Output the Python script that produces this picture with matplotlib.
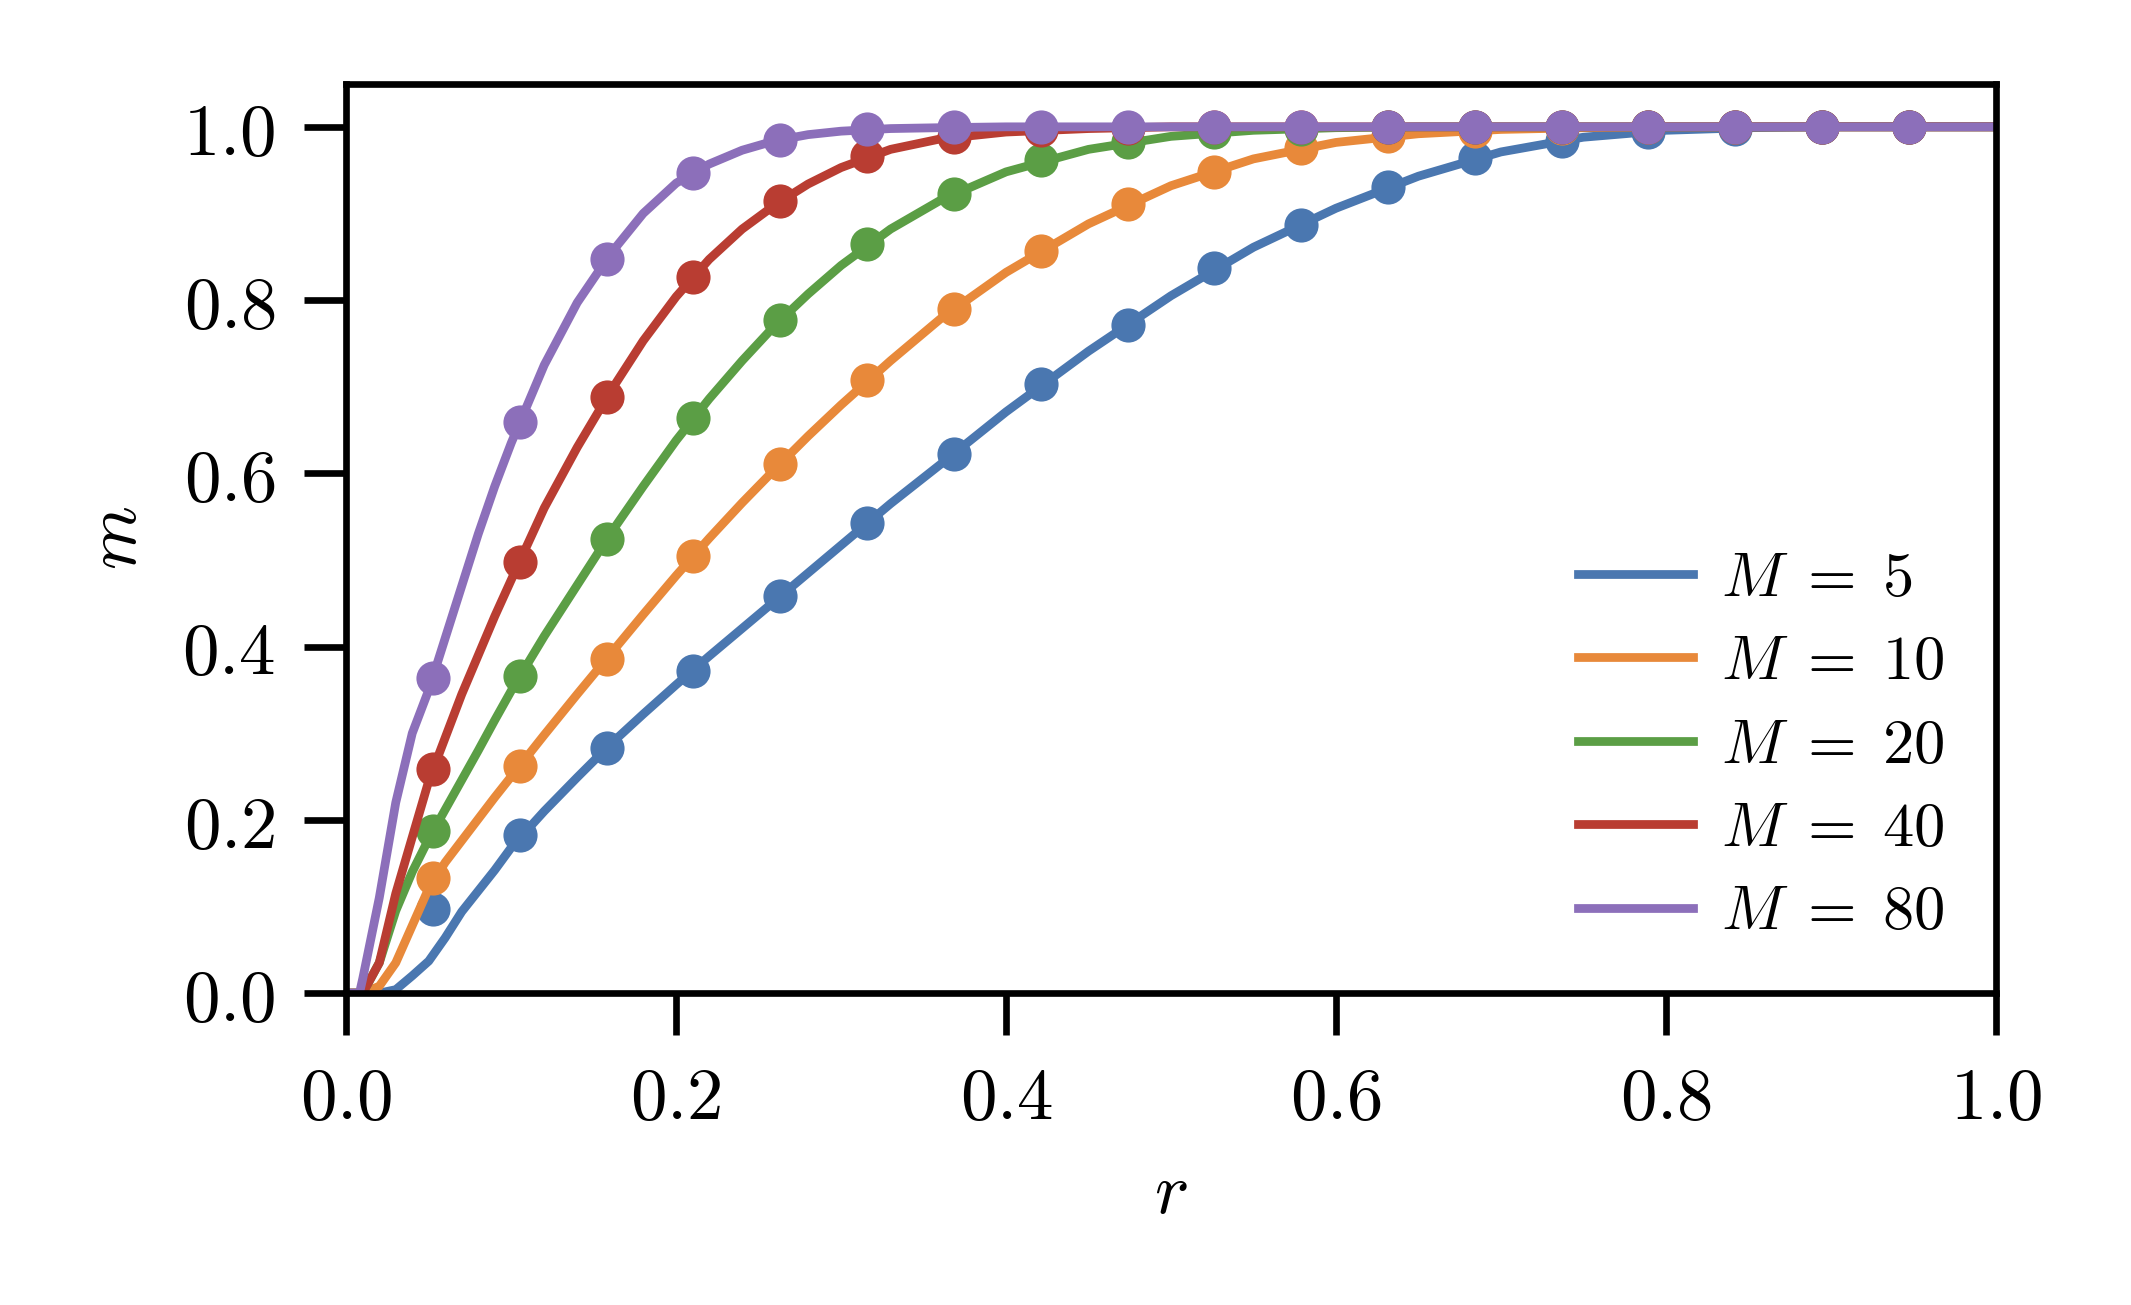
import numpy as np
import matplotlib
matplotlib.use("Agg")
import matplotlib.pyplot as plt
from matplotlib.ticker import FormatStrFormatter

plt.rcParams['mathtext.fontset'] = 'cm'
plt.rcParams['font.family'] = ['DejaVu Serif']

# System sizes and colours
M_values = [5, 10, 20, 40, 80]
colors = ['#4a77b0', '#e8893a', '#5b9e45', '#b93d32', '#8c6fba']

# Simulation points (markers), r = k/19 for k = 1..18
r_pts = [0.0526, 0.1053, 0.1579, 0.2105, 0.2632, 0.3158, 0.3684, 0.4211, 0.4737,
         0.5263, 0.5789, 0.6316, 0.6842, 0.7368, 0.7895, 0.8421, 0.8947, 0.9474]
m_pts_5 = [0.097, 0.182, 0.283, 0.372, 0.458, 0.543, 0.622, 0.703, 0.771,
           0.837, 0.887, 0.931, 0.964, 0.984, 0.994, 0.998, 1.0, 1.0]
m_pts_10 = [0.133, 0.262, 0.386, 0.505, 0.611, 0.708, 0.790, 0.857, 0.911,
            0.948, 0.975, 0.989, 0.995, 0.999, 1.0, 1.0, 1.0, 1.0]
m_pts_20 = [0.187, 0.366, 0.524, 0.664, 0.777, 0.865, 0.923, 0.962, 0.983,
            0.994, 0.998, 1.0, 1.0, 1.0, 1.0, 1.0, 1.0, 1.0]
m_pts_40 = [0.259, 0.498, 0.688, 0.827, 0.914, 0.966, 0.988, 0.996, 0.999,
            1.0, 1.0, 1.0, 1.0, 1.0, 1.0, 1.0, 1.0, 1.0]
m_pts_80 = [0.364, 0.659, 0.848, 0.947, 0.985, 0.997, 1.0, 1.0, 1.0,
            1.0, 1.0, 1.0, 1.0, 1.0, 1.0, 1.0, 1.0, 1.0]

# Theory curves (lines)
r_line = [0, 0.008, 0.01, 0.02, 0.03, 0.04, 0.05, 0.06, 0.07, 0.08, 0.09, 0.10,
          0.12, 0.14, 0.16, 0.18, 0.20, 0.22, 0.24, 0.26, 0.28, 0.30,
          0.33, 0.36, 0.40, 0.45, 0.50, 0.55, 0.60, 0.65, 0.70, 0.75,
          0.80, 0.85, 0.90, 1.0]
m_line_5 = [0, 0, 0, 0, 0.004, 0.020, 0.037, 0.064, 0.094, 0.118, 0.142, 0.168,
            0.210, 0.249, 0.287, 0.322, 0.356, 0.389, 0.421, 0.453, 0.485, 0.517,
            0.565, 0.610, 0.671, 0.741, 0.805, 0.861, 0.906, 0.943, 0.971, 0.988,
            0.996, 0.999, 1.0, 1.0]
m_line_10 = [0, 0, 0, 0.008, 0.035, 0.078, 0.121, 0.151, 0.176, 0.201, 0.226, 0.250,
             0.298, 0.345, 0.391, 0.437, 0.482, 0.525, 0.566, 0.605, 0.643, 0.679,
             0.730, 0.778, 0.832, 0.888, 0.932, 0.963, 0.982, 0.992, 0.997, 0.999,
             1.0, 1.0, 1.0, 1.0]
m_line_20 = [0, 0, 0, 0.035, 0.095, 0.140, 0.178, 0.212, 0.246, 0.280, 0.315, 0.349,
             0.412, 0.471, 0.530, 0.585, 0.638, 0.686, 0.730, 0.771, 0.807, 0.840,
             0.882, 0.915, 0.948, 0.974, 0.989, 0.996, 0.999, 1.0, 1.0, 1.0,
             1.0, 1.0, 1.0, 1.0]
m_line_40 = [0, 0, 0, 0.035, 0.115, 0.180, 0.245, 0.295, 0.345, 0.390, 0.435, 0.477,
             0.560, 0.630, 0.694, 0.753, 0.804, 0.847, 0.882, 0.910, 0.934, 0.953,
             0.974, 0.986, 0.994, 0.998, 1.0, 1.0, 1.0, 1.0, 1.0, 1.0,
             1.0, 1.0, 1.0, 1.0]
m_line_80 = [0, 0, 0.017, 0.110, 0.220, 0.300, 0.350, 0.410, 0.470, 0.530, 0.585, 0.635,
             0.725, 0.797, 0.853, 0.900, 0.935, 0.957, 0.973, 0.984, 0.991, 0.995,
             0.998, 0.999, 1.0, 1.0, 1.0, 1.0, 1.0, 1.0, 1.0, 1.0,
             1.0, 1.0, 1.0, 1.0]

m_pts = [m_pts_5, m_pts_10, m_pts_20, m_pts_40, m_pts_80]
m_lines = [m_line_5, m_line_10, m_line_20, m_line_40, m_line_80]

fig = plt.figure(figsize=(2131 / 300, 1305 / 300), dpi=300)
ax = fig.add_axes([0.1625, 0.239, 0.774, 0.697])

for M, c, mp, ml in zip(M_values, colors, m_pts, m_lines):
    ax.plot(r_line, ml, color=c, lw=2.1, label=rf'$M\;=\;{M}$')
    ax.plot(r_pts, mp, 'o', color=c, ms=8.2, mec='none')

ax.set_xlim(0, 1)
ax.set_ylim(0, 1.05)
ax.set_xticks([0, 0.2, 0.4, 0.6, 0.8, 1.0])
ax.set_yticks([0, 0.2, 0.4, 0.6, 0.8, 1.0])
ax.xaxis.set_major_formatter(FormatStrFormatter(r'$%.1f$'))
ax.yaxis.set_major_formatter(FormatStrFormatter(r'$%.1f$'))
ax.tick_params(direction='out', length=10, width=1.6, labelsize=17.5, pad=7)
for s in ax.spines.values():
    s.set_linewidth(1.6)

ax.set_xlabel(r'$r$', fontsize=17.5, labelpad=5.4)
ax.set_ylabel(r'$m$', fontsize=17.5, labelpad=7.5)

ax.legend(loc='lower right', frameon=False, fontsize=15, handlelength=1.85,
          handletextpad=0.45, labelspacing=0.357, borderaxespad=0.41)

fig.savefig('out.png', dpi=300)
